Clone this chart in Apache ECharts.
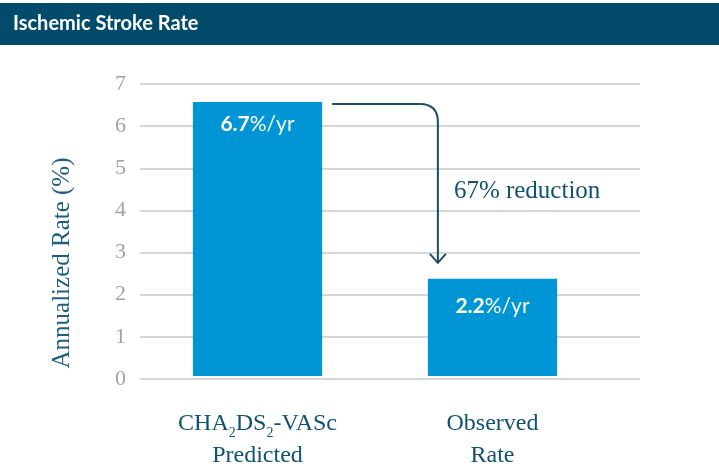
<!DOCTYPE html>
<html>
<head>
<meta charset="utf-8">
<script src="https://cdn.jsdelivr.net/npm/echarts@6/dist/echarts.min.js"></script>
<style>html,body{margin:0;padding:0;background:#fff;}#c{width:719px;height:468px;}</style>
</head>
<body>
<div id="c"></div>
<script>
// ---- data ----
const chartTitle = 'Ischemic Stroke Rate';
const categories = ['CHA2DS2-VASc Predicted', 'Observed Rate'];
const barValues = [6.57, 2.33];
const barLabels = ['6.7', '2.2'];
const yMin = 0, yMax = 7, yInterval = 1;
const yAxisName = 'Annualized Rate (%)';
const annotationText = '67% reduction';

const TEAL = '#0f5273';
const SERIF = '"Liberation Serif", "DejaVu Serif", serif';
const SANS = 'Lato, "Open Sans", sans-serif';

const chart = echarts.init(document.getElementById('c'), null, {renderer: 'canvas'});

function catFormatter(v) {
  if (v === categories[0]) return '{n|CHA}{s|2}{n|DS}{s|2}{n|-VASc}\n{n|Predicted}';
  if (v === categories[1]) return '{n|Observed}\n{n|Rate}';
  return v;
}

const option = {
  backgroundColor: '#ffffff',
  animation: false,
  grid: [
    {left: 140, right: 79, top: 84, bottom: 89},
    {left: 140, width: 470, top: 84, bottom: 89}
  ],
  xAxis: [
    {gridIndex: 0, type: 'value', show: false, min: 0, max: 1},
    {
      gridIndex: 1, type: 'category', data: categories,
      axisLine: {show: false}, axisTick: {show: false},
      axisLabel: {
        margin: 32, formatter: catFormatter,
        rich: {
          n: {fontFamily: SERIF, fontSize: 24, color: TEAL, lineHeight: 32},
          s: {fontFamily: SERIF, fontSize: 14, color: TEAL, verticalAlign: 'bottom', lineHeight: 14}
        }
      }
    }
  ],
  yAxis: [
    {
      gridIndex: 0, type: 'value', min: yMin, max: yMax, interval: yInterval,
      axisLine: {show: false}, axisTick: {show: false},
      axisLabel: {color: '#a3a3a3', fontFamily: SERIF, fontSize: 22, margin: 14},
      splitLine: {lineStyle: {color: '#c8c8c8', width: 1.5}}
    },
    {gridIndex: 1, type: 'value', min: yMin, max: yMax, interval: yInterval, show: false, splitLine: {show: false}}
  ],
  series: [{
    type: 'bar', xAxisIndex: 1, yAxisIndex: 1,
    data: barValues.map((v, i) => i === 1 ? {value: v, label: {distance: 17}} : v),
    barWidth: '55%',
    itemStyle: {color: '#0096d6'},
    label: {
      show: true, position: 'insideTop', distance: 12,
      formatter: p => '{b|' + barLabels[p.dataIndex] + '}{r|%/yr}',
      rich: {
        b: {fontFamily: SANS, fontWeight: 'bold', fontSize: 21, color: '#fff'},
        r: {fontFamily: SANS, fontSize: 21, color: '#fff'}
      }
    }
  }]
};
chart.setOption(option);

// annotation computed from data through the axes
const p0 = chart.convertToPixel({xAxisIndex: 1, yAxisIndex: 1}, [0, barValues[0]]);
const p1 = chart.convertToPixel({xAxisIndex: 1, yAxisIndex: 1}, [1, barValues[1]]);
const band = p1[0] - p0[0];
const half = band * 0.55 / 2;
const sx = p0[0] + half + 10, sy = p0[1] + 2;
const cx = p1[0] - half + 10, ey = p1[1] - 16;
const r = 18;
const ARROW = '#1a4d6a';
const lineStyle = {stroke: ARROW, lineWidth: 2, fill: null};

chart.setOption({
  graphic: [
    {type: 'rect', shape: {x: 0, y: 3, width: 719, height: 42}, style: {fill: '#034b6a'}},
    {type: 'text', x: 13, y: 24, style: {text: chartTitle, fill: '#fff', font: 'bold 20px ' + SANS, textVerticalAlign: 'middle'}},
    {type: 'text', x: 62, y: 263, rotation: Math.PI / 2, style: {text: yAxisName, fill: '#1d5f82', font: '25px ' + SERIF, textAlign: 'center', textVerticalAlign: 'middle'}},
    {type: 'line', shape: {x1: sx, y1: sy, x2: cx - r, y2: sy}, style: lineStyle},
    {type: 'bezierCurve', shape: {x1: cx - r, y1: sy, x2: cx, y2: sy + r, cpx1: cx, cpy1: sy}, style: lineStyle},
    {type: 'line', shape: {x1: cx, y1: sy + r, x2: cx, y2: ey}, style: lineStyle},
    {type: 'polyline', shape: {points: [[cx - 8, ey - 9], [cx, ey], [cx + 8, ey - 9]]}, style: lineStyle},
    {type: 'text', x: cx + 16, y: (sy + ey) / 2 + 8, style: {text: annotationText, fill: TEAL, font: '25px ' + SERIF, textVerticalAlign: 'middle'}}
  ]
});
</script>
</body>
</html>
